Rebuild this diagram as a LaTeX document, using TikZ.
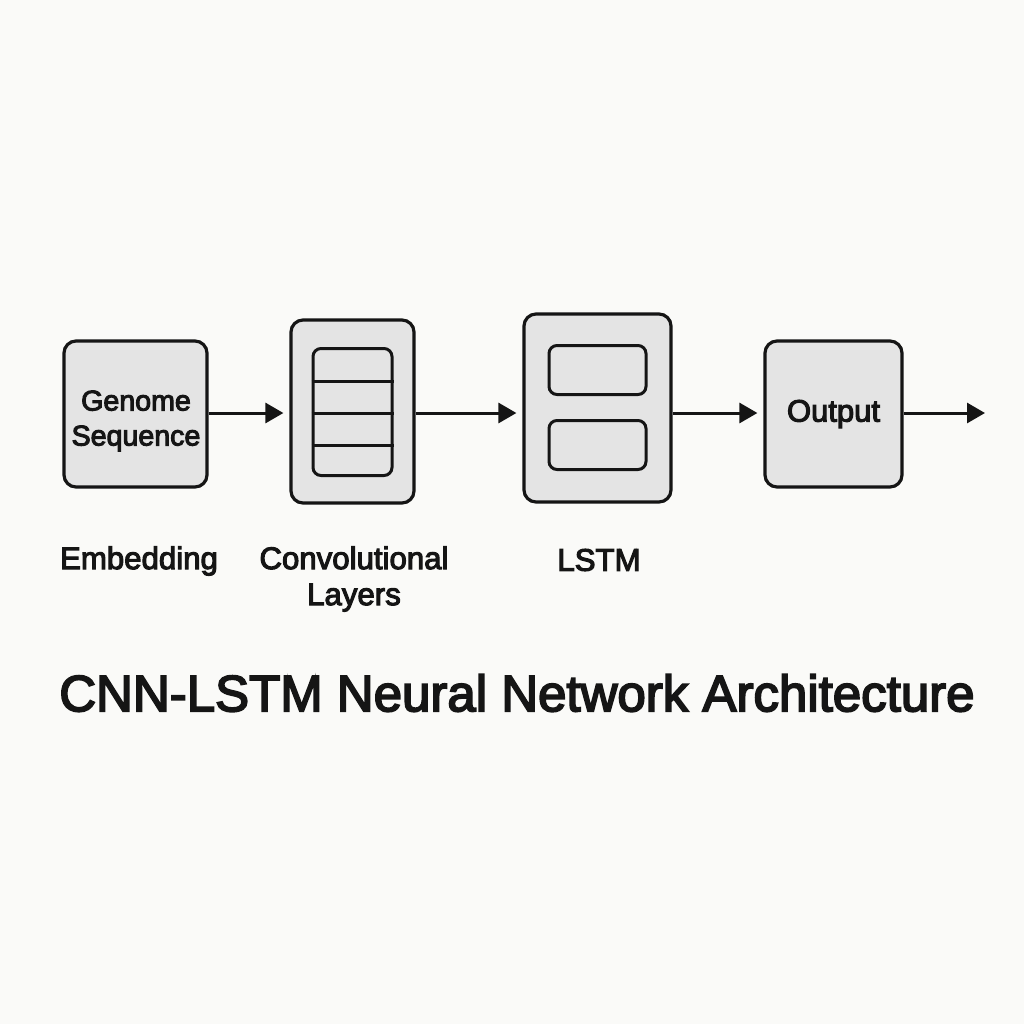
\documentclass[tikz,border=0pt]{standalone}
\usepackage{fontspec}
\setmainfont{Liberation Sans}[RawFeature={embolden=3.5}]
\usetikzlibrary{arrows.meta}
\definecolor{bg}{HTML}{FAFAF8}
\definecolor{boxfill}{HTML}{E4E4E4}
\definecolor{ink}{HTML}{151515}
\tikzset{
  blockbox/.style={draw=ink, fill=boxfill, line width=1.6pt, rounded corners=6pt, inner sep=0pt, align=center, text=ink, font=\fontsize{14.3}{17.5}\selectfont},
  innerbox/.style={draw=ink, fill=boxfill, line width=1.5pt, rounded corners=4pt, inner sep=0pt},
  flow/.style={draw=ink, line width=1.5pt, -{Triangle[length=9pt,width=10pt]}},
  caption/.style={text=ink, align=center, font=\fontsize{15.6}{18}\selectfont},
}
\begin{document}
\begin{tikzpicture}[x=0.5pt,y=-0.5pt]
\useasboundingbox[fill=bg] (0,0) rectangle (1024,1024);
% boxes
\node[blockbox, minimum width=71.5pt, minimum height=73pt] (emb) at (135.5,414) {};
\node[text=ink, align=center, font=\fontsize{14.3}{17.5}\selectfont] (embtxt) at (136,421) {Genome\\Sequence};
\node[blockbox, minimum width=61.5pt, minimum height=91.5pt] (conv) at (352.5,411.5) {};
\node[innerbox, minimum width=39.5pt, minimum height=63.5pt] (convin) at (352.5,412) {};
\draw[ink, line width=1.5pt] (convin.west |- 0,381) -- (convin.east |- 0,381);
\draw[ink, line width=1.5pt] (convin.west |- 0,413) -- (convin.east |- 0,413);
\draw[ink, line width=1.5pt] (convin.west |- 0,445) -- (convin.east |- 0,445);
\node[blockbox, minimum width=73.5pt, minimum height=94pt] (lstm) at (597.5,408) {};
\node[innerbox, minimum width=48.5pt, minimum height=24.5pt] (cellA) at (597.5,370) {};
\node[innerbox, minimum width=48.5pt, minimum height=24.5pt] (cellB) at (597.5,445) {};
\node[blockbox, minimum width=68.5pt, minimum height=73pt, font=\fontsize{15.5}{18}\selectfont] (out) at (833.5,414) {Output};
\coordinate (end) at (985,413);
% arrows
\draw[flow, shorten >=3pt] (emb.east |- 0,413) -- (conv.west |- 0,413);
\draw[flow, shorten >=3pt] (conv.east |- 0,413) -- (lstm.west |- 0,413);
\draw[flow, shorten >=3pt] (lstm.east |- 0,413) -- (out.west |- 0,413);
\draw[flow] (out.east |- 0,413) -- (end);
% labels
\node[caption] (l1) at (139,561) {Embedding};
\node[caption] (l2) at (354,579) {Convolutional\\Layers};
\node[caption] (l3) at (599,560) {LSTM};
\node[text=ink, font=\fontsize{25.5}{30}\selectfont] (title) at (517,693) {CNN-LSTM Neural Network Architecture};
\end{tikzpicture}
\end{document}
